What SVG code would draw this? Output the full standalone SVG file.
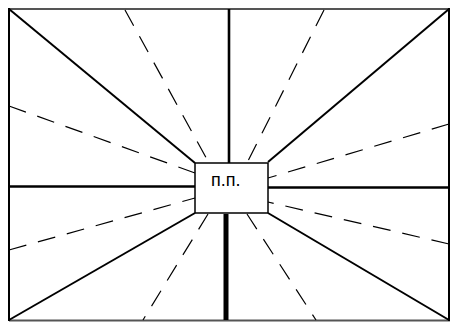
<svg xmlns="http://www.w3.org/2000/svg" width="452" height="322" viewBox="0 0 452 322">
<style>
.solid{stroke:#000;stroke-width:2;fill:none}
.thick{stroke:#000;stroke-width:2.6;fill:none}
.dash{stroke:#000;stroke-width:1.2;fill:none;stroke-dasharray:18 12}
.frame-h{stroke:#555;stroke-width:2}
.frame-v{stroke:#000;stroke-width:2}
.lbl{font-family:"Liberation Sans",Arial,sans-serif;font-size:18px;fill:#000}
</style>
<rect width="452" height="322" fill="#fff"/>
<g id="frame">
<line class="frame-h" x1="9" y1="9" x2="450" y2="9"/>
<line class="frame-h" x1="9" y1="320.5" x2="450" y2="320.5"/>
<line class="frame-v" x1="9" y1="8" x2="9" y2="321"/>
<line class="frame-v" x1="449" y1="8" x2="449" y2="321"/>
</g>
<g id="connectors">
<line class="thick" x1="229" y1="9" x2="229" y2="163"/>
<line class="solid" x1="226" y1="214" x2="226" y2="320" style="stroke-width:5"/>
<line class="thick" x1="9" y1="186.5" x2="195" y2="186.5"/>
<line class="thick" x1="268" y1="187.5" x2="449" y2="187.5"/>
<line class="solid" x1="9" y1="9" x2="195" y2="163"/>
<line class="solid" x1="449" y1="9" x2="268" y2="162"/>
<line class="solid" x1="9" y1="320" x2="195" y2="213"/>
<line class="solid" x1="449" y1="320" x2="268" y2="213"/>
<line class="dash" x1="125" y1="10" x2="209" y2="163"/>
<line class="dash" x1="324" y1="10" x2="247" y2="163"/>
<line class="dash" x1="9" y1="106" x2="195" y2="173"/>
<line class="dash" x1="449" y1="124" x2="268" y2="178"/>
<line class="dash" x1="9" y1="250" x2="195" y2="198"/>
<line class="dash" x1="449" y1="244" x2="268" y2="202"/>
<line class="dash" x1="208" y1="214" x2="143" y2="320"/>
<line class="dash" x1="247" y1="214" x2="316" y2="320"/>
</g>
<g id="pp">
<rect x="195" y="163" width="73" height="50" fill="#fff" stroke="#000" stroke-width="1.5"/>
<text class="lbl" x="211" y="186">п.п.</text>
</g>
</svg>
